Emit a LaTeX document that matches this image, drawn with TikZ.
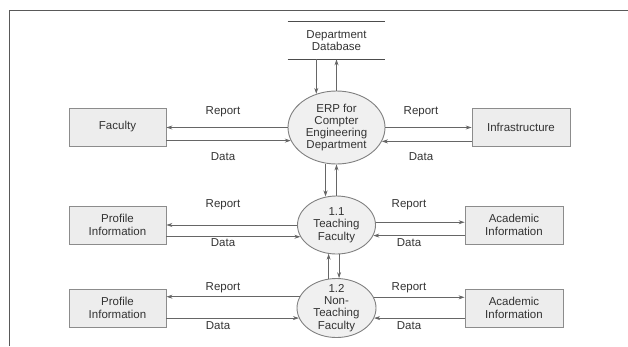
\documentclass[tikz,border=0pt]{standalone}
\usepackage{fontspec}
\setmainfont{Liberation Sans}
\usetikzlibrary{arrows.meta,shapes.geometric}

\begin{document}
\begin{tikzpicture}[x=1pt,y=-1pt,semithick,
  font=\fontsize{11.5}{12.3}\selectfont,
  box/.style={draw=black!45,line width=0.9pt,fill=black!7,minimum width=97pt,minimum height=38pt,
    inner sep=0pt,align=center,text=black!80},
  proc/.style={ellipse,draw=black!50,line width=0.9pt,fill=black!6,inner sep=0pt,align=center,text=black!80},
  flow/.style={draw=black!60,line width=0.7pt,-{Stealth[length=6pt,width=4pt]}},
  lbl/.style={text=black!80,inner sep=0pt}]
\useasboundingbox (0,0) rectangle (628,346);
\draw[black!65,line width=1.4pt] (9.5,346) -- (9.5,10.5) -- (628,10.5);
% data store
\node[inner sep=0pt,minimum width=97pt,minimum height=37pt,align=center,text=black!80]
  (DB) at (336.5,40.5) {Department\\Database};
\draw[black!70,line width=1.4pt] (DB.north west) -- (DB.north east) (DB.south west) -- (DB.south east);
% processes
\node[proc,minimum width=97pt,minimum height=73pt] (ERP) at (336.5,127.5) {ERP for\\Compter\\Engineering\\Department};
\node[proc,minimum width=78pt,minimum height=58pt] (T1) at (336.5,225) {1.1\\Teaching\\Faculty};
\node[proc,minimum width=79pt,minimum height=59pt,inner ysep=-3.5pt] (T2) at (336.5,308) {1.2\\Non-\\Teaching\\Faculty};
% entities
\node[box] (Fac) at (117.5,127) {Faculty};
\node[box,minimum width=98pt] (Inf) at (521,127) {Infrastructure};
\node[box] (PI1) at (117.5,225) {Profile\\Information};
\node[box,minimum width=98pt] (AI1) at (514,225) {Academic\\Information};
\node[box] (PI2) at (117.5,308) {Profile\\Information};
\node[box,minimum width=98pt] (AI2) at (514,308) {Academic\\Information};
% flows
\draw[flow] (DB.south -| ERP.121.8) -- (ERP.121.8);
\draw[flow] (ERP.north) -- (DB.south -| ERP.north);
\draw[flow] (ERP.west) -- (Fac.east |- ERP.west);
\draw[flow] (Fac.east |- ERP.196.7) -- (ERP.196.7);
\draw[flow] (ERP.east) -- (Inf.west |- ERP.east);
\draw[flow] (Inf.west |- ERP.343.3) -- (ERP.343.3);
\draw[flow] (ERP.253.6) -- (ERP.253.6 |- T1.109.7);
\draw[flow] (T1.north) -- (ERP.south);
\draw[flow] (T1.west) -- (PI1.east |- T1.west);
\draw[flow] (PI1.east |- T1.198.7) -- (T1.198.7);
\draw[flow] (T1.4.4) -- (AI1.west |- T1.4.4);
\draw[flow] (AI1.west |- T1.344.7) -- (T1.344.7);
\draw[flow] (T2.105.5) -- (T2.105.5 |- T1.254.3);
\draw[flow] (T1.275.9) -- (T1.275.9 |- T2.84.2);
\draw[flow] (T2.163.3) -- (PI2.east |- T2.163.3);
\draw[flow] (PI2.east |- T2.195) -- (T2.195);
\draw[flow] (T2.16.7) -- (AI2.west |- T2.16.7);
\draw[flow] (AI2.west |- T2.345) -- (T2.345);
% flow labels
\node[lbl] (r1) at (223,112) {Report};
\node[lbl] (d1) at (223,157) {Data};
\node[lbl] (r2) at (421,112) {Report};
\node[lbl] (d2) at (421,157) {Data};
\node[lbl] (r3) at (223,205) {Report};
\node[lbl] (d3) at (223,243) {Data};
\node[lbl] (r4) at (409,205) {Report};
\node[lbl] (d4) at (409,243) {Data};
\node[lbl] (r5) at (223,288) {Report};
\node[lbl] (d5) at (218,326) {Data};
\node[lbl] (r6) at (409,288) {Report};
\node[lbl] (d6) at (409,326) {Data};
\end{tikzpicture}
\end{document}
